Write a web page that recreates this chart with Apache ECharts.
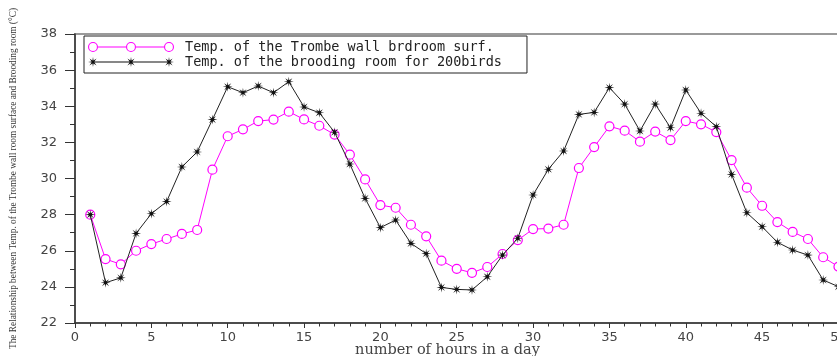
<!DOCTYPE html>
<html>
<head>
<meta charset="utf-8">
<script src="https://cdn.jsdelivr.net/npm/echarts@6/dist/echarts.min.js"></script>
<style>
  html, body { margin: 0; padding: 0; background: #fff; }
  #chart { width: 837px; height: 356px; }
</style>
</head>
<body>
<div id="chart"></div>
<script>
// hours (x) and the two temperature curves
let hours = [1, 2, 3, 4, 5, 6, 7, 8, 9, 10, 11, 12, 13, 14, 15, 16, 17, 18, 19, 20,
    21, 22, 23, 24, 25, 26, 27, 28, 29, 30, 31, 32, 33, 34, 35, 36, 37, 38, 39, 40,
    41, 42, 43, 44, 45, 46, 47, 48, 49, 50];

let trombeSurf = [28.0, 25.54, 25.25, 26.0, 26.37, 26.65, 26.93, 27.15, 30.49, 32.34,
    32.72, 33.18, 33.26, 33.7, 33.27, 32.92, 32.43, 31.32, 29.95, 28.53,
    28.38, 27.44, 26.8, 25.45, 25.0, 24.78, 25.1, 25.82, 26.59, 27.2,
    27.23, 27.44, 30.58, 31.74, 32.89, 32.65, 32.04, 32.6, 32.13, 33.18,
    33.0, 32.57, 31.02, 29.49, 28.49, 27.59, 27.04, 26.65, 25.64, 25.12];

let broodingRoom = [28.0, 24.23, 24.5, 26.96, 28.05, 28.72, 30.64, 31.47, 33.26, 35.08,
    34.75, 35.12, 34.75, 35.36, 33.96, 33.64, 32.56, 30.8, 28.9, 27.28,
    27.7, 26.41, 25.84, 23.97, 23.86, 23.83, 24.56, 25.76, 26.69, 29.09,
    30.51, 31.52, 33.55, 33.66, 35.03, 34.12, 32.63, 34.12, 32.81, 34.9,
    33.61, 32.87, 30.23, 28.1, 27.33, 26.47, 26.04, 25.76, 24.38, 24.01];

let seriesNames = ['Temp. of the Trombe wall brdroom surf.', 'Temp. of the brooding room for 200birds'];
let yTitle = 'The Relationship between Temp. of the Trombe wall room surface and Brooding room (\u00B0C)';
let xTitle = 'number of hours in a day';

function pairs(xs, ys) {
    let res = [];
    for (let i = 0; i < xs.length; i++) {
        res.push([xs[i], ys[i]]);
    }
    return res;
}

// asterisk-like 8 point star, centred on (cx, cy)
function starD(cx, cy, r, rIn) {
    let d = '';
    for (let i = 0; i < 16; i++) {
        let a = i * Math.PI / 8 - Math.PI / 2;
        let rr = i % 2 ? r * rIn : r;
        d += (i === 0 ? 'M' : 'L') + (cx + rr * Math.cos(a)).toFixed(2) + ',' + (cy + rr * Math.sin(a)).toFixed(2);
    }
    return d + 'Z';
}

// ring (open circle) as two opposite-wound circles
function ringD(cx, cy, r, rIn) {
    return 'M' + (cx - r) + ',' + cy + 'A' + r + ',' + r + ',0,1,0,' + (cx + r) + ',' + cy +
        'A' + r + ',' + r + ',0,1,0,' + (cx - r) + ',' + cy + 'Z' +
        'M' + (cx - rIn) + ',' + cy + 'A' + rIn + ',' + rIn + ',0,1,1,' + (cx + rIn) + ',' + cy +
        'A' + rIn + ',' + rIn + ',0,1,1,' + (cx - rIn) + ',' + cy + 'Z';
}

// legend sample: a line with three markers on it, like the original figure
function legendIcon(kind) {
    let w = 86, h = 10, r = 5;
    let cs = [r, w / 2, w - r];
    let d = '';
    for (let i = 0; i < cs.length; i++) {
        d += kind === 'ring' ? ringD(cs[i], h / 2, r, r - 1.1) : starD(cs[i], h / 2, r, 0.3);
        if (i < cs.length - 1) {
            let x0 = cs[i] + (kind === 'ring' ? r : 0), x1 = cs[i + 1] - (kind === 'ring' ? r : 0);
            d += 'M' + x0 + ',' + (h / 2 - 0.5) + 'L' + x1 + ',' + (h / 2 - 0.5) +
                'L' + x1 + ',' + (h / 2 + 0.5) + 'L' + x0 + ',' + (h / 2 + 0.5) + 'Z';
        }
    }
    return 'path://' + d;
}

let labelFont = 'DejaVu Sans';
let legendFont = 'DejaVu Sans Mono';
let yTitleFont = 'Liberation Serif';
let xTitleFont = 'DejaVu Serif';

let option = {
    animation: false,
    backgroundColor: '#fff',
    grid: {
        left: 75,
        top: 34,
        bottom: 33,
        right: -32,
        outerBoundsMode: 'none',
        containLabel: false,
        show: true,
        borderColor: '#9a9a9a',
        borderWidth: 2
    },
    legend: {
        orient: 'vertical',
        left: 84,
        top: 36,
        itemWidth: 86,
        itemHeight: 10,
        itemGap: 1,
        padding: [4, 25, 4, 4],
        borderColor: '#222',
        borderWidth: 1,
        backgroundColor: '#fff',
        textStyle: {
            fontFamily: legendFont,
            fontSize: 13.5,
            lineHeight: 12,
            color: '#222',
            padding: [0, 0, 0, 6]
        },
        data: [
            { name: seriesNames[0], icon: legendIcon('ring'), itemStyle: { color: '#ff00ff', borderWidth: 0 } },
            { name: seriesNames[1], icon: legendIcon('star'), itemStyle: { color: '#111', borderWidth: 0 } }
        ]
    },
    xAxis: {
        type: 'value',
        min: 0,
        max: 52,
        interval: 5,
        name: xTitle,
        nameLocation: 'middle',
        nameGap: 20,
        nameMoveOverlap: false,
        nameTextStyle: {
            fontFamily: xTitleFont,
            fontSize: 14.5,
            color: '#444',
            padding: [0, 49, 0, 0]
        },
        axisLine: { lineStyle: { color: '#333', width: 1.5 } },
        axisTick: { length: 5, lineStyle: { color: '#333' } },
        minorTick: { show: true, splitNumber: 5, length: 3.5, lineStyle: { color: '#333' } },
        splitLine: { show: false },
        axisLabel: {
            margin: 8,
            fontFamily: labelFont,
            fontSize: 13,
            color: '#444',
            showMaxLabel: false
        }
    },
    yAxis: {
        type: 'value',
        min: 22,
        max: 38,
        interval: 2,
        name: yTitle,
        nameLocation: 'middle',
        nameGap: 57,
        nameMoveOverlap: false,
        nameTextStyle: {
            fontFamily: yTitleFont,
            fontSize: 9.3,
            color: '#333'
        },
        axisLine: { lineStyle: { color: '#333', width: 1.5 } },
        axisTick: { length: 10, lineStyle: { color: '#333' } },
        minorTick: { show: true, splitNumber: 2, length: 5, lineStyle: { color: '#333' } },
        splitLine: { show: false },
        axisLabel: {
            margin: 18,
            fontFamily: labelFont,
            fontSize: 13,
            color: '#444'
        }
    },
    series: [
        {
            name: seriesNames[0],
            type: 'line',
            data: pairs(hours, trombeSurf),
            symbol: 'circle',
            symbolSize: 9,
            showAllSymbol: true,
            lineStyle: { color: '#ff00ff', width: 1 },
            itemStyle: { color: '#fff', borderColor: '#ff00ff', borderWidth: 1.2 },
            z: 2
        },
        {
            name: seriesNames[1],
            type: 'line',
            data: pairs(hours, broodingRoom),
            symbol: 'path://' + starD(0, 0, 1, 0.3),
            symbolSize: 10,
            showAllSymbol: true,
            lineStyle: { color: '#222', width: 1 },
            itemStyle: { color: '#111' },
            z: 3
        }
    ]
};

let myChart = echarts.init(document.getElementById('chart'), null, { renderer: 'canvas' });
myChart.setOption(option);
</script>
</body>
</html>
